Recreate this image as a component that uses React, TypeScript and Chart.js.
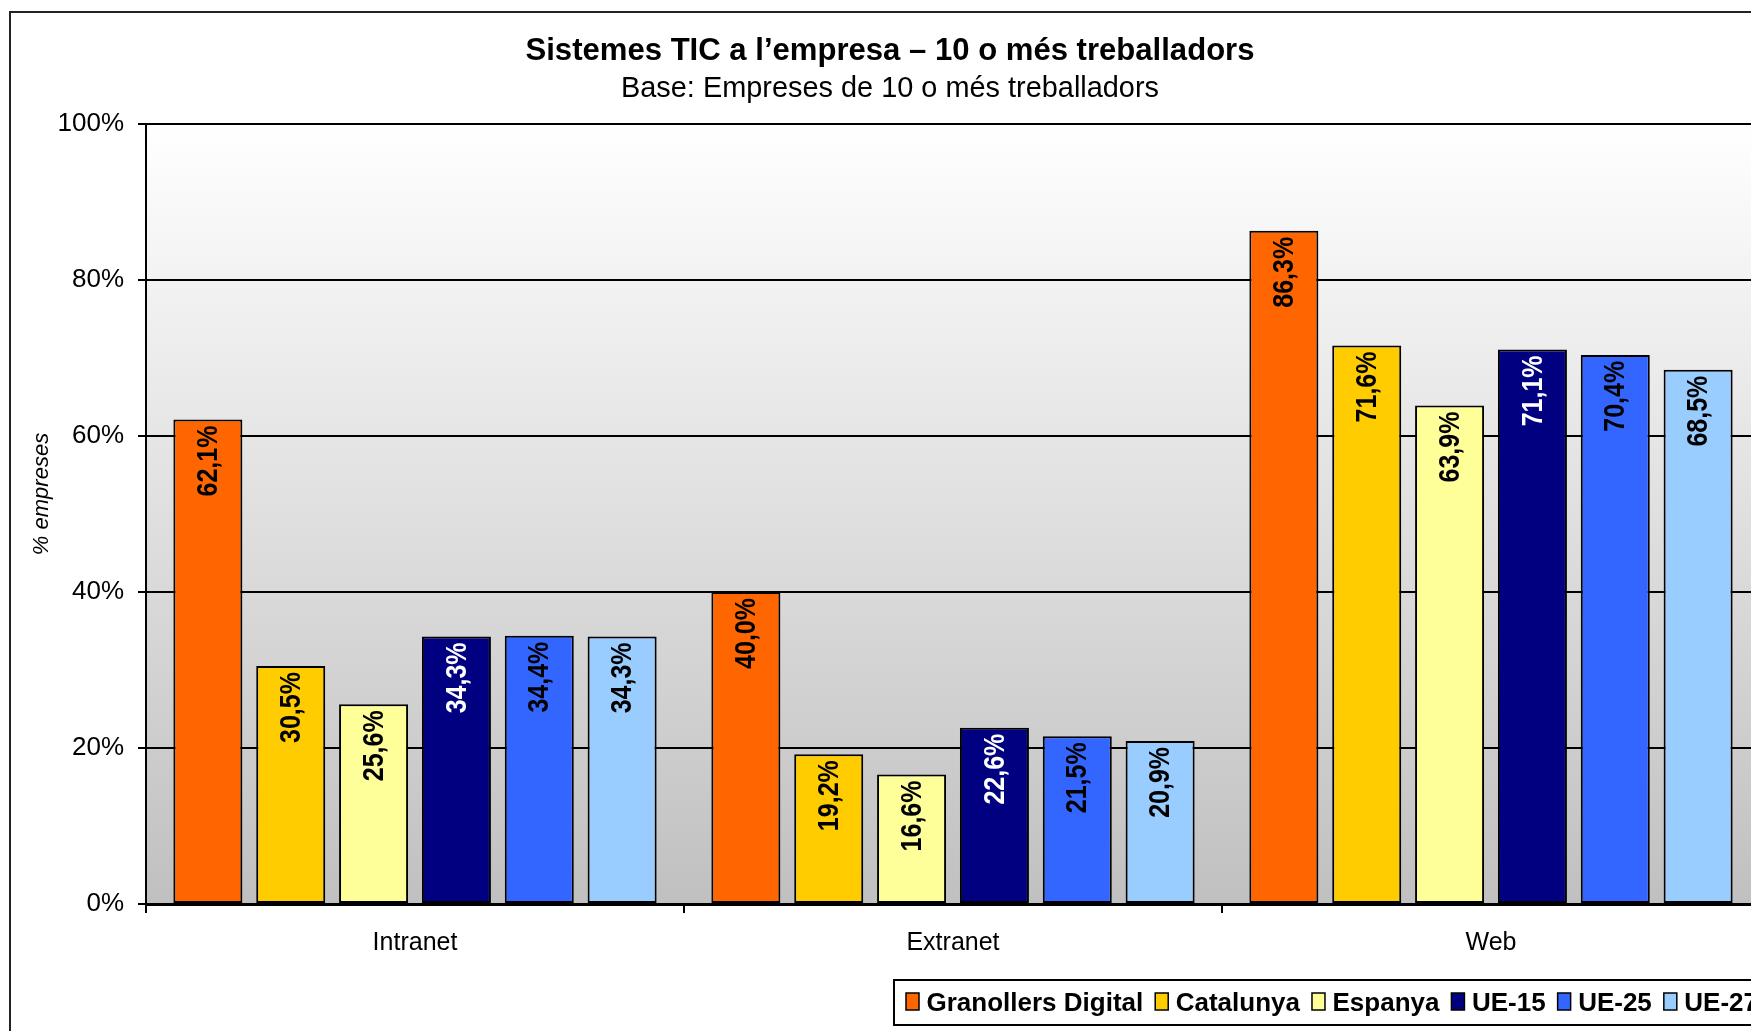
import React, { useEffect, useRef } from 'react';
import { Chart, registerables } from 'chart.js';

Chart.register(...registerables);

// ---- data ----
const categories = ['Intranet', 'Extranet', 'Web'];
const seriesNames = ['Granollers Digital', 'Catalunya', 'Espanya', 'UE-15', 'UE-25', 'UE-27'];
const granollers = [62.1, 40.0, 86.3];
const catalunya = [30.5, 19.2, 71.6];
const espanya = [25.6, 16.6, 63.9];
const ue15 = [34.3, 22.6, 71.1];
const ue25 = [34.4, 21.5, 70.4];
const ue27 = [34.3, 20.9, 68.5];
const yTickValues = [0, 20, 40, 60, 80, 100];
const titleText = 'Sistemes TIC a l’empresa – 10 o més treballadors';
const subtitleText = 'Base: Empreses de 10 o més treballadors';
const yTitleText = '% empreses';

// ---- styles ----
const seriesColors = ['#FF6600', '#FFCC00', '#FFFF99', '#000080', '#3366FF', '#99CCFF'];
const labelColors = ['#000000', '#000000', '#000000', '#FFFFFF', '#000000', '#000000'];
const FONT = '"Liberation Sans", Arial, Helvetica, sans-serif';
const W = 1790;
const H = 1050;
const AREA = { left: 146, right: 1760, top: 124, bottom: 904 };

const fmt = (v: number) => v.toFixed(1).replace('.', ',') + '%';

const bgPlugin = {
  id: 'bgPlugin',
  beforeDraw(chart: any) {
    const { ctx, chartArea: a } = chart;
    ctx.save();
    ctx.fillStyle = '#ffffff';
    ctx.fillRect(0, 0, chart.width, chart.height);
    const g = ctx.createLinearGradient(0, a.top, 0, a.bottom);
    g.addColorStop(0, '#ffffff');
    g.addColorStop(1, '#c0c0c0');
    ctx.fillStyle = g;
    ctx.fillRect(a.left, a.top, a.right - a.left, a.bottom - a.top);
    ctx.restore();
  },
};

const labelPlugin = {
  id: 'labelPlugin',
  afterDatasetsDraw(chart: any) {
    const ctx = chart.ctx;
    chart.data.datasets.forEach((ds: any, i: number) => {
      const meta = chart.getDatasetMeta(i);
      meta.data.forEach((el: any, j: number) => {
        const v = ds.data[j] as number;
        ctx.save();
        ctx.translate(el.x, el.y + 6);
        ctx.rotate(-Math.PI / 2);
        ctx.scale(1, 1.15);
        ctx.font = `bold 25px ${FONT}`;
        ctx.fillStyle = labelColors[i];
        ctx.textAlign = 'right';
        ctx.textBaseline = 'middle';
        ctx.fillText(fmt(v), 0, 1);
        ctx.restore();
      });
    });
  },
};

const fitText = (ctx: any, text: string, cx: number, baseline: number, font: string, width: number) => {
  ctx.save();
  ctx.font = font;
  const m = ctx.measureText(text).width;
  const sx = width / m;
  ctx.translate(cx, baseline);
  ctx.scale(sx, 1);
  ctx.textAlign = 'center';
  ctx.textBaseline = 'alphabetic';
  ctx.fillText(text, 0, 0);
  ctx.restore();
};

const decoPlugin = {
  id: 'decoPlugin',
  afterDraw(chart: any) {
    const ctx = chart.ctx;
    ctx.save();
    ctx.fillStyle = '#000';
    // titles
    fitText(ctx, titleText, 890, 60, `bold 31px ${FONT}`, 729);
    fitText(ctx, subtitleText, 890, 97, `29px ${FONT}`, 538);
    // y-axis title
    ctx.save();
    ctx.translate(42, 494);
    ctx.rotate(-Math.PI / 2);
    ctx.font = `italic 22px ${FONT}`;
    ctx.textAlign = 'center';
    ctx.textBaseline = 'middle';
    ctx.fillText(yTitleText, 0, 0);
    ctx.restore();

    // legend
    ctx.lineWidth = 2;
    ctx.strokeStyle = '#000';
    ctx.strokeRect(894, 980, 1000, 45);
    ctx.font = `bold 26px ${FONT}`;
    ctx.textAlign = 'left';
    ctx.textBaseline = 'alphabetic';
    let x = 906;
    seriesNames.forEach((name, i) => {
      ctx.fillStyle = seriesColors[i];
      ctx.fillRect(x, 993, 13, 17);
      ctx.lineWidth = 1.5;
      ctx.strokeRect(x, 993, 13, 17);
      ctx.fillStyle = '#000';
      ctx.fillText(name, x + 20.5, 1011);
      x += 20.5 + ctx.measureText(name).width + 12;
    });

    // outer border
    ctx.lineWidth = 2;
    ctx.strokeStyle = '#222';
    ctx.strokeRect(10, 12, 1771 - 10, 1045 - 12);
    ctx.restore();
  },
};

export default function App() {
  const ref = useRef<HTMLCanvasElement | null>(null);

  useEffect(() => {
    if (!ref.current) return;
    const seriesData = [granollers, catalunya, espanya, ue15, ue25, ue27];
    const chart = new Chart(ref.current, {
      type: 'bar',
      data: {
        labels: categories,
        datasets: seriesNames.map((name, i) => ({
          label: name,
          data: seriesData[i],
          backgroundColor: seriesColors[i],
          borderColor: '#000000',
          borderWidth: 2,
          borderSkipped: false,
          categoryPercentage: 0.924,
          barPercentage: 0.833,
        })),
      },
      options: {
        responsive: false,
        animation: false,
        devicePixelRatio: 1,
        layout: { padding: { left: 0, right: W - AREA.right, top: AREA.top, bottom: 0 } },
        plugins: {
          legend: { display: false },
          title: { display: false },
          tooltip: { enabled: false },
        },
        scales: {
          x: {
            grid: {
              drawOnChartArea: false,
              drawTicks: true,
              tickLength: 9,
              color: '#000',
              lineWidth: 2,
              offset: true,
            },
            border: { display: true, color: '#000', width: 3 },
            ticks: { color: '#000', font: { family: FONT, size: 25 }, padding: 15 },
            afterFit: (s: any) => {
              s.height = H - AREA.bottom;
            },
          },
          y: {
            min: 0,
            max: 100,
            afterBuildTicks: (s: any) => {
              s.ticks = yTickValues.map((v) => ({ value: v }));
            },
            ticks: {
              color: '#000',
              font: { family: FONT, size: 26 },
              padding: 14,
              callback: (v: any) => v + '%',
            },
            grid: { color: '#000', lineWidth: 2, tickLength: 8, drawTicks: true },
            border: { display: true, color: '#000', width: 2 },
            afterFit: (s: any) => {
              s.width = AREA.left;
            },
          },
        },
      } as any,
      plugins: [bgPlugin, labelPlugin, decoPlugin],
    });
    return () => chart.destroy();
  }, []);

  return (
    <div
      style={{
        position: 'fixed',
        left: 0,
        top: 0,
        width: 1751,
        height: 1031,
        overflow: 'hidden',
        background: '#fff',
      }}
    >
      <canvas ref={ref} width={W} height={H} style={{ width: W, height: H, display: 'block' }} />
    </div>
  );
}
